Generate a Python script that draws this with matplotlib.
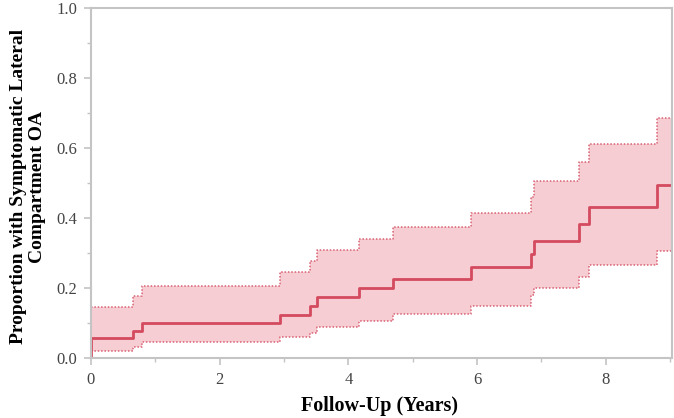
import matplotlib.pyplot as plt
import numpy as np

# step times (years) and cumulative proportion
times = [0, 0, 0.65, 0.80, 2.93, 3.40, 3.51, 4.17, 4.70, 5.90, 6.84, 6.88, 7.59, 7.74, 8.79, 9.03]
est = [0.0, 0.057, 0.079, 0.10, 0.124, 0.149, 0.174, 0.20, 0.227, 0.26, 0.298, 0.335, 0.383, 0.431, 0.495, 0.495]

ci_times = [0, 0.65, 0.80, 2.93, 3.40, 3.51, 4.17, 4.70, 5.90, 6.84, 6.88, 7.59, 7.74, 8.79, 9.03]
upper = [0.145, 0.179, 0.207, 0.245, 0.277, 0.309, 0.34, 0.376, 0.414, 0.46, 0.505, 0.56, 0.612, 0.686, 0.686]
lower = [0.022, 0.033, 0.045, 0.06, 0.073, 0.09, 0.107, 0.127, 0.149, 0.18, 0.20, 0.231, 0.265, 0.307, 0.307]

xticks = [0, 2, 4, 6, 8]
yticks = [0.0, 0.2, 0.4, 0.6, 0.8, 1.0]

line_col = '#d44a5e'
fill_col = '#f5cdd3'
gray = '#c4c4c4'

plt.rcParams['font.family'] = ['Liberation Serif', 'DejaVu Serif']

fig = plt.figure(figsize=(6.74, 4.18), dpi=100)
ax = fig.add_axes([0.135, 0.143, 0.862, 0.838])

ax.fill_between(ci_times, lower, upper, step='post', color=fill_col, lw=0)
ax.step(ci_times, upper, where='post', color=line_col, lw=1.1, ls=(0, (1, 1.2)), alpha=0.85)
ax.step(ci_times, lower, where='post', color=line_col, lw=1.1, ls=(0, (1, 1.2)), alpha=0.85)
ax.step(times, est, where='post', color=line_col, lw=2.0)

ax.set_xlim(0, 9.03)
ax.set_ylim(0, 1.0)
ax.set_xticks(xticks)
ax.set_xticklabels([str(t) for t in xticks])
ax.set_yticks(yticks)
ax.set_yticklabels(['%.1f' % t for t in yticks])
ax.set_xticks([1, 3, 5, 7, 9], minor=True)
ax.set_yticks([0.1, 0.3, 0.5, 0.7, 0.9], minor=True)

for s in ax.spines.values():
    s.set_color(gray)
    s.set_linewidth(1.5)
ax.tick_params(which='major', direction='out', length=5, width=1.2, color=gray,
               labelsize=12, labelcolor='#444444', pad=5)
ax.tick_params(which='minor', direction='out', length=3, width=1.0, color=gray)

ax.set_xlabel('Follow-Up (Years)', fontsize=14.5, fontweight='bold')
ax.xaxis.set_label_coords(0.496, -0.108)
ax.set_ylabel('Proportion with Symptomatic Lateral\nCompartment OA', fontsize=14,
              fontweight='bold', linespacing=1.15)
ax.yaxis.set_label_coords(-0.0775, 0.49)

fig.savefig('out.png', dpi=100)
